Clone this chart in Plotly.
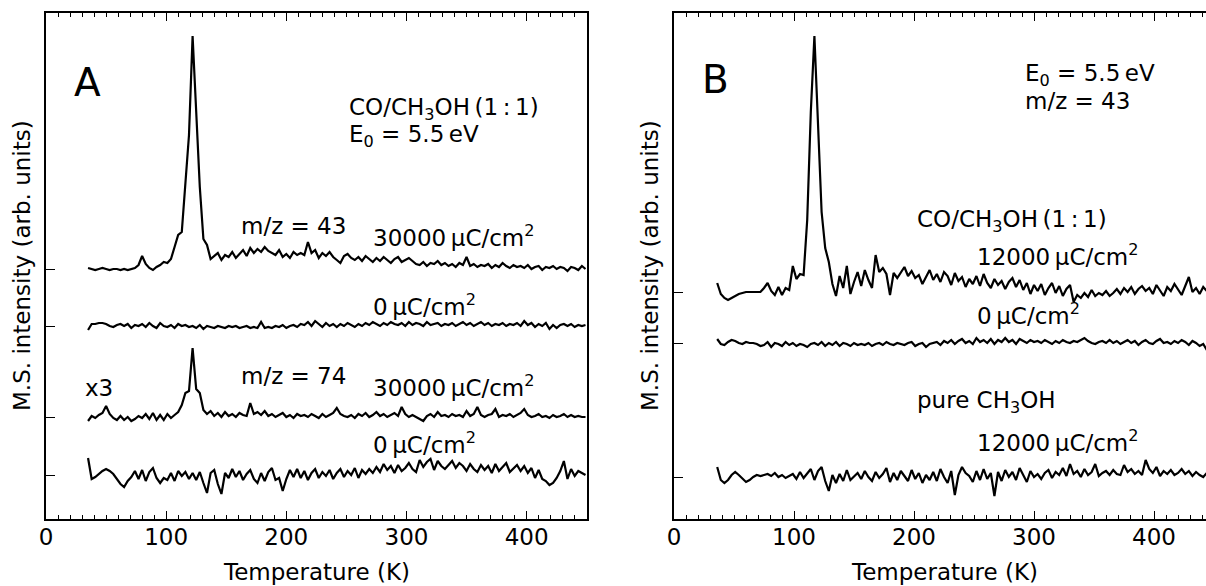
import plotly.graph_objects as go

# ---------------- data (temperature in K, intensity deviations in arb. units) ----------------
TA = [35, 38, 41, 44, 47, 50, 53, 56, 59, 62,
      65, 68, 71, 74, 77, 80, 83, 86, 89, 92,
      95, 98, 101, 104, 107, 110, 113, 116, 119, 122,
      125, 128, 131, 134, 137, 140, 143, 146, 149, 152,
      155, 158, 161, 164, 167, 170, 173, 176, 179, 182,
      185, 188, 191, 194, 197, 200, 203, 206, 209, 212,
      215, 218, 221, 224, 227, 230, 233, 236, 239, 242,
      245, 248, 251, 254, 257, 260, 263, 266, 269, 272,
      275, 278, 281, 284, 287, 290, 293, 296, 299, 302,
      305, 308, 311, 314, 317, 320, 323, 326, 329, 332,
      335, 338, 341, 344, 347, 350, 353, 356, 359, 362,
      365, 368, 371, 374, 377, 380, 383, 386, 389, 392,
      395, 398, 401, 404, 407, 410, 413, 416, 419, 422,
      425, 428, 431, 434, 437, 440, 443, 446, 449]

TB = [36, 39, 42, 45, 48, 51, 54, 57, 60, 63,
      66, 69, 72, 75, 78, 81, 84, 87, 90, 93,
      96, 99, 102, 105, 108, 111, 114, 117, 120, 123,
      126, 129, 132, 135, 138, 141, 144, 147, 150, 153,
      156, 159, 162, 165, 168, 171, 174, 177, 180, 183,
      186, 189, 192, 195, 198, 201, 204, 207, 210, 213,
      216, 219, 222, 225, 228, 231, 234, 237, 240, 243,
      246, 249, 252, 255, 258, 261, 264, 267, 270, 273,
      276, 279, 282, 285, 288, 291, 294, 297, 300, 303,
      306, 309, 312, 315, 318, 321, 324, 327, 330, 333,
      336, 339, 342, 345, 348, 351, 354, 357, 360, 363,
      366, 369, 372, 375, 378, 381, 384, 387, 390, 393,
      396, 399, 402, 405, 408, 411, 414, 417, 420, 423,
      426, 429, 432, 435, 438, 441, 444, 447, 450]

# Panel A offsets (vertical stacking positions = y tick positions)
A_OFFSETS = [250, 193, 102, 44]
# Panel B offsets
B_OFFSETS = [227, 176, 42]

# Panel A, m/z = 43, 30000 uC/cm2
A43_DOSE = [1, 0, -1, 0, 1, 0, -1, 0, 0, -1,
            0, -1, 0, 1, 4, 13, 5, 1, -1, 2,
            4, 7, 6, 10, 22, 34, 37, 90, 134, 233,
            155, 82, 30, 24, 10, 13, 16, 9, 14, 12,
            17, 11, 15, 19, 13, 21, 16, 20, 17, 22,
            18, 16, 14, 19, 12, 15, 11, 17, 14, 16,
            14, 27, 16, 19, 11, 16, 13, 17, 12, 9,
            6, 13, 15, 11, 9, 12, 8, 13, 10, 7,
            11, 8, 12, 9, 6, 10, 12, 7, 9, 11,
            8, 5, 4, 7, 3, 6, 5, 8, 4, 6,
            3, 5, 2, 6, 4, 12, 3, 5, 2, 4,
            3, 5, 1, 4, 2, 6, 3, 1, 4, 2,
            3, 1, 4, 0, 2, 3, -1, 2, 1, 3,
            0, 2, 1, -2, 2, 1, -1, 3, 0]

# Panel A, m/z = 43, 0 uC/cm2
A43_ZERO = [-4, 2, 2, 3, 3, 2, 0, -1, 1, 2,
            0, 2, -2, 1, 0, 2, -1, 3, 0, -2,
            3, 0, -1, 1, -2, 2, 0, 1, -1, 0,
            -2, 1, -3, 0, -1, -2, 0, -1, -2, 0,
            -1, 0, -2, -1, 0, -2, -1, -2, 4, -2,
            -1, -2, 0, -1, 1, -2, 0, 1, -1, 2,
            1, 4, 0, 5, 2, -1, 3, 0, 2, -1,
            2, 0, 3, 1, -1, 2, 0, 3, 1, 4,
            2, 0, 3, 1, 4, 2, 1, 3, 0, 4,
            1, 3, 2, 0, 4, 1, 2, 3, 0, 2,
            1, 3, 0, 2, 4, 1, 3, 0, 2, 4,
            1, 3, 0, 2, 1, 3, 0, 2, 1, 3,
            0, 5, 1, 3, -1, 2, 0, 3, -3, 1,
            -2, 1, 2, 0, 2, -1, 1, 0, 1]

# Panel A, m/z = 74 (x3), 30000 uC/cm2
A74_DOSE = [-4, 1, -1, 2, 4, 11, 3, -1, -3, 1,
            -3, 0, -4, -2, 1, -1, 3, -2, 4, -3,
            2, -3, 3, -1, 2, 5, 12, 24, 26, 69,
            28, 24, 7, 3, 6, 1, 4, 0, 5, 1,
            3, 0, 4, 2, 1, 14, 3, 5, 2, 6,
            1, 3, 0, 2, 4, 0, 2, -1, 3, 1,
            2, 0, 3, 1, -1, 3, 0, 2, 4, 9,
            3, 1, 0, 2, -1, 3, 1, 4, 0, 2,
            5, 1, 3, 0, 2, 4, 1, 10, 3, 0,
            2, 0, -2, -4, 1, 3, 0, 5, 1, 2,
            0, 3, 1, 2, 0, 6, 1, 3, 10, 2,
            0, 2, 3, 8, 0, 2, 1, 3, 0, 2,
            4, 8, 2, 0, 1, 3, 0, 1, -1, 2,
            0, 1, 3, 0, 2, 0, 1, 0, 0]

# Panel A, m/z = 74 (x3), 0 uC/cm2
A74_ZERO = [17, -4, -2, 1, 4, 6, 4, 1, -4, -9,
            -12, -6, -2, 4, -4, 5, -6, 3, 7, -3,
            -8, -3, -5, 2, -6, 4, -1, 3, -4, 2,
            -5, 3, -8, -18, 2, 5, -9, -19, 2, -3,
            6, -2, 4, -5, 1, 5, -4, -8, 2, -6,
            3, 7, -5, -3, -16, -4, 5, -2, 6, -3,
            4, -5, 2, 6, -3, 3, -1, 5, -4, 2,
            6, -2, 4, 0, 7, -3, 5, 1, 6, 2,
            8, 3, 11, 5, 9, 2, 10, 4, 7, 12,
            6, 3, 15, 8, 13, 16, 5, 14, 9, 6,
            10, 14, 7, 12, 9, 4, 11, 6, 3, 10,
            5, 9, 2, 11, 4, 8, 12, 3, 7, 10,
            4, 9, 2, 7, -3, 5, -4, -6, -10, -8,
            -3, 4, 14, -4, 6, -1, 4, 2, 0]

# Panel B, CO/CH3OH (1:1), 12000 uC/cm2
B_MIX_DOSE = [9, -2, -6, -8, -6, -4, -2, -1, 0, 0,
              0, 0, 0, 4, 9, 1, -3, 5, -3, 4,
              2, 26, 13, 18, 17, 72, 180, 256, 168, 80,
              44, 30, 8, -4, 16, 4, 26, -2, 10, 20,
              6, 22, 12, 4, 37, 20, 24, 18, -3, 19,
              14, 20, 25, 16, 21, 14, 17, 8, 15, 22,
              12, 18, 10, 20, 16, 7, 19, 11, 15, 5,
              13, 8, 16, 6, 18, 9, 4, 13, 7, 11,
              3, 10, 14, 5, 12, 2, 9, -2, 7, 1,
              8, -3, 4, 9, -1, 6, -4, 3, 7, -10,
              -3, -6, -1, -5, 2, -4, -1, -3, 1, -4,
              -1, 3, -2, 4, 0, 5, -2, 3, 6, 1,
              4, -2, 7, 2, -4, 5, 1, 8, 2, -3,
              6, 15, 0, 4, -2, 5, 1, 3, 2]

# Panel B, CO/CH3OH (1:1), 0 uC/cm2
B_MIX_ZERO = [4, -1, -2, 1, 3, 2, 0, -1, 1, 0,
              0, -1, -3, -2, 1, -4, 0, -1, -3, 1,
              -2, 0, -3, -1, -2, -4, -1, 0, -2, 1,
              -3, 0, -2, 1, -3, 0, -1, -3, 0, -2,
              -1, -2, 0, -3, -1, 0, -2, 1, -1, -2,
              0, -1, -2, 0, 1, -3, -1, 0, -4, -1,
              0, 1, -2, 2, 0, 3, -1, 2, 4, 0,
              2, -1, 5, 1, 3, 0, 4, -1, 3, 1,
              5, 1, 3, -1, 4, 2, 0, 3, 1, 2,
              0, 3, 1, -1, 2, 0, 3, 1, 0, 2,
              1, 3, 5, 2, 0, -1, 1, 2, 0, 3,
              0, 2, -1, 1, 3, 0, 2, -2, 1, 3,
              0, -1, 2, 4, 0, 1, -1, 2, 0, 3,
              1, -2, 2, 0, -3, -1, -7, -2, 0]

# Panel B, pure CH3OH, 12000 uC/cm2
B_PURE_DOSE = [10, -3, -6, -3, 2, 5, 2, -2, -5, -3,
               0, 2, 1, 2, 3, 1, 4, 0, 2, -1,
               1, 3, -2, 5, -1, 3, 8, -3, 6, 10,
               -4, -14, 2, -6, 3, -4, 7, -3, 1, 4,
               -2, 6, 0, -4, 5, -1, 3, 9, -5, 4,
               -3, 6, 1, -4, 7, -2, 4, -6, 2, -3,
               5, -4, 8, 0, -6, 6, -18, 2, 10, 4,
               1, -5, 6, -3, 8, -2, 4, -19, 5, -4,
               7, 0, 5, -3, 9, 2, -5, 6, 0, 3,
               -2, 4, 7, -1, 5, 2, 9, 1, 13, 3,
               6, 0, 8, 2, 5, 13, 1, 4, 6, 2,
               7, 3, 2, 12, 5, 8, 3, 6, 2, 17,
               8, 4, 10, 1, 6, 3, 7, 2, 4, 8,
               3, 6, 1, 5, 2, 0, 4, 1, 3]

X_TICKS = [0, 100, 200, 300, 400]

# ---------------- figure ----------------
FONT = "DejaVu Sans"
FS = 23
LINE = dict(color="black", width=2.2)

fig = go.Figure()

for dev, off in zip([A43_DOSE, A43_ZERO, A74_DOSE, A74_ZERO], A_OFFSETS):
    fig.add_trace(go.Scatter(x=TA, y=[off + d for d in dev], mode="lines",
                             line=LINE, xaxis="x", yaxis="y", showlegend=False))

for dev, off in zip([B_MIX_DOSE, B_MIX_ZERO, B_PURE_DOSE], B_OFFSETS):
    fig.add_trace(go.Scatter(x=TB, y=[off + d for d in dev], mode="lines",
                             line=LINE, xaxis="x2", yaxis="y2", showlegend=False))

W, H = 1206, 586
L, R, T, B = 46, 0, 13, 67
pw = W - L - R
axA_end = (586.7 - L) / pw
axB_start = (674 - L) / pw

xcommon = dict(showline=True, linecolor="black", linewidth=2.2, mirror="ticks",
               ticks="inside", ticklen=8, tickwidth=1.4, tickcolor="black",
               tickvals=X_TICKS, showgrid=False, zeroline=False,
               tickfont=dict(family=FONT, size=FS, color="black"),
               minor=dict(dtick=10, ticks="inside", ticklen=4, tickwidth=1.1,
                          tickcolor="black", showgrid=False),
               ticklabelstandoff=-4)
ycommon = dict(showline=True, linecolor="black", linewidth=2.2,
               ticks="inside", ticklen=9, tickwidth=1.4, tickcolor="black",
               showticklabels=False, showgrid=False, zeroline=False,
               range=[0, 506])

fig.update_layout(
    width=W, height=H,
    margin=dict(l=L, r=R, t=T, b=B, pad=0),
    paper_bgcolor="white", plot_bgcolor="white",
    font=dict(family=FONT, size=FS, color="black"),
    xaxis=dict(domain=[0, axA_end], range=[0, 450], anchor="y", **xcommon),
    yaxis=dict(anchor="x", mirror=True, tickvals=A_OFFSETS, **ycommon),
    xaxis2=dict(domain=[axB_start, 1], range=[0, 443.3], anchor="y2", **xcommon),
    yaxis2=dict(anchor="x2", mirror=False, tickvals=B_OFFSETS, **ycommon),
)

def note(text, x, y, xr, yr, size=FS, xanchor="left"):
    fig.add_annotation(text=text, x=x, y=y, xref=xr, yref=yr, showarrow=False,
                       xanchor=xanchor, yanchor="middle",
                       font=dict(family=FONT, size=size, color="black"))

uC = "\u2009\u03bcC/cm<sup>2</sup>"
# Panel A
note("A", 21.4, 437, "x", "y", size=39)
note("CO/CH<sub>3</sub>OH\u2009(1\u2009:\u20091)", 250.3, 410, "x", "y")
note("E<sub>0</sub> = 5.5\u2009eV", 250.3, 383, "x", "y")
note("m/z = 43", 160.8, 293, "x", "y")
note("30000" + uC, 270.8, 283, "x", "y")
note("0" + uC, 270.8, 214, "x", "y")
note("x3", 30.8, 131, "x", "y")
note("m/z = 74", 160.8, 143, "x", "y")
note("30000" + uC, 270.8, 133, "x", "y")
note("0" + uC, 270.8, 76, "x", "y")
# Panel B
note("B", 22, 440, "x2", "y2", size=39)
note("E<sub>0</sub> = 5.5\u2009eV", 290.8, 444, "x2", "y2")
note("m/z = 43", 290.8, 418, "x2", "y2")
note("CO/CH<sub>3</sub>OH\u2009(1\u2009:\u20091)", 200.8, 298, "x2", "y2")
note("12000" + uC, 250.8, 264, "x2", "y2")
note("0" + uC, 250.8, 205, "x2", "y2")
note("pure CH<sub>3</sub>OH", 200.8, 117, "x2", "y2")
note("12000" + uC, 250.8, 78, "x2", "y2")

# axis titles
for xr, yr in [("x domain", "y domain"), ("x2 domain", "y2 domain")]:
    wpx = (axA_end if xr.startswith("x ") else (1 - axB_start)) * pw
    fig.add_annotation(text="M.S. intensity (arb. units)", textangle=-90,
                       x=-24 / wpx, y=0.5, xref=xr, yref=yr, showarrow=False,
                       xanchor="center", yanchor="middle",
                       font=dict(family=FONT, size=FS, color="black"))
    fig.add_annotation(text="Temperature (K)", x=225 / (450 if xr.startswith("x ") else 443.3),
                       y=-53 / 506, xref=xr, yref=yr, showarrow=False,
                       xanchor="center", yanchor="middle",
                       font=dict(family=FONT, size=FS, color="black"))

fig.write_html(
    "out.html",
    config={"displayModeBar": False},
    post_script="document.body.style.margin='0';document.body.style.overflow='hidden';",
)
